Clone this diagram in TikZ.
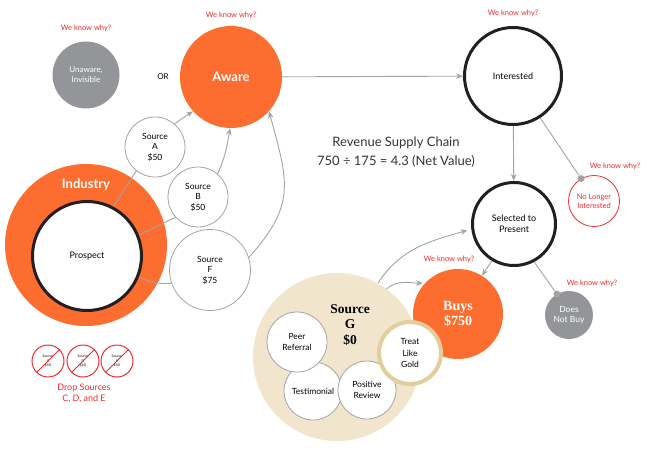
\documentclass[tikz,border=0pt]{standalone}
\usepackage{fontspec}
\setmainfont{Lato}
\newfontfamily\serifb{Liberation Serif}
\usetikzlibrary{arrows.meta}
\definecolor{orng}{HTML}{FD6D2F}
\definecolor{gry}{HTML}{939598}
\definecolor{lne}{HTML}{A3A3A3}
\definecolor{beige}{HTML}{F1E6CD}
\definecolor{gold}{HTML}{E3CD9D}
\definecolor{redc}{HTML}{EC2B2F}
\definecolor{ink}{HTML}{231F20}
\definecolor{titlec}{HTML}{333333}
\begin{document}
\begin{tikzpicture}[x=1pt,y=-1pt,
  circ/.style={circle, inner sep=0pt, align=center},
  conn/.style={draw=lne, line width=0.9pt},
  arr/.style={conn, -{Stealth[length=7pt,width=5.5pt]}},
  why/.style={inner sep=0pt, text=redc, font=\fontsize{7.5}{9}\selectfont},
  srcc/.style={circ, draw=lne, fill=white, line width=0.8pt, font=\fontsize{8.5}{10.5}\selectfont},
  blk/.style={circ, draw=ink, fill=white, line width=3pt, font=\fontsize{9}{11}\selectfont},
  drop/.style={circ, draw=redc, fill=white, line width=1pt, minimum size=32pt, font=\fontsize{3.5}{4.2}\selectfont},
  dot/.style={circle, fill=lne, inner sep=0pt, minimum size=7pt}]
\useasboundingbox (0,0) rectangle (650,460);

% top-left
\node[circ, fill=gry, minimum size=67pt, text=white, font=\fontsize{8}{10}\selectfont] (unaware) at (86,75) {Unaware,\\Invisible};
\node[why] (w1) at (86,28) {We know why?};
\node[inner sep=0pt, font=\fontsize{8}{10}\selectfont] (or) at (163,77) {OR};
\node[circ, fill=orng, minimum size=102pt, text=white, font=\fontsize{13}{15}\selectfont\bfseries] (aware) at (231,77) {Aware};
\node[why] (w2) at (231,15) {We know why?};

% right column
\node[blk, minimum size=97pt] (inter) at (513,76) {Interested};
\node[why] (w3) at (513,13) {We know why?};
\node[blk, minimum size=83pt] (sel) at (514,224) {Selected to\\Present};
\node[circ, draw=redc, fill=white, line width=0.8pt, minimum size=51pt, text=redc, font=\fontsize{7.5}{9}\selectfont] (nolong) at (594,201) {No Longer\\Interested};
\node[why] (w4) at (615,166) {We know why?};
\node[circ, fill=gry, minimum size=48pt, text=white, font=\fontsize{8.5}{10.5}\selectfont] (notbuy) at (569,315) {Does\\Not Buy};
\node[why] (w5) at (592,283) {We know why?};
\node[dot] (dot1) at (nolong.120) {};
\node[dot] (dot2) at (notbuy.120) {};

% title
\node[inner sep=0pt, align=center, text=titlec, font=\fontsize{13}{19}\selectfont] (title) at (396,152) {Revenue Supply Chain\\750 ÷ 175 = 4.3 (Net Value)};

% industry
\node[circ, fill=orng, minimum size=162pt] (ind) at (86,245) {};
\node[inner sep=0pt, text=white, font=\fontsize{13}{15}\selectfont\bfseries] (indlab) at (86,185) {Industry};
\node[blk, minimum size=109pt] (pros) at (87,256) {Prospect};

% sources
\node[srcc, minimum size=60pt] (srcA) at (155,147) {Source\\A\\\$50};
\node[srcc, minimum size=60pt] (srcB) at (198,197) {Source\\B\\\$50};
\node[srcc, minimum size=81pt] (srcF) at (210,270) {Source\\F\\\$75};

% source G cluster
\node[circ, fill=beige, minimum size=168pt] (srcG) at (337,357) {};
\node[circ, fill=orng, minimum size=90pt, text=white, font=\serifb\fontsize{14}{15}\selectfont\bfseries] (buys) at (458,314) {Buys\\\$750};
\node[why] (w6) at (449,259) {We know why?};
\node[inner sep=0pt, align=center, font=\serifb\fontsize{13.5}{15.5}\selectfont\bfseries] (glab) at (350,325) {Source\\G\\\$0};
\node[srcc, minimum size=58pt] (testi) at (313,391) {Testimonial};
\node[srcc, minimum size=58pt] (posrev) at (367,390) {Positive\\Review};
\node[srcc, minimum size=60pt] (peer) at (297,342) {Peer\\Referral};
\node[circ, draw=gold, fill=white, line width=4pt, minimum size=62pt, font=\fontsize{8.5}{11.5}\selectfont] (gold) at (410,353) {Treat\\Like\\Gold};

% drop sources
\node[drop] (dC) at (48,361) {Source\\C\\\$50};
\node[drop] (dD) at (83,361) {Source\\D\\\$50};
\node[drop] (dE) at (117,361) {Source\\E\\\$50};
\draw[redc, line width=1pt] (dC.225) -- (dC.45);
\draw[redc, line width=1pt] (dD.225) -- (dD.45);
\draw[redc, line width=1pt] (dE.225) -- (dE.45);
\node[inner sep=0pt, align=center, text=redc, font=\fontsize{9}{11}\selectfont] (droplab) at (84,393) {Drop Sources\\C, D, and E};

% connectors
\draw[conn] (pros.62) -- (srcA.232);
\draw[arr] (srcA.50) -- (aware.222);
\draw[conn] (pros.22) -- (srcB.222);
\draw[arr] (srcB.50) to[out=65,in=-100] (aware.269);
\draw[conn] (pros.-22) to[bend right=15] (srcF.199);
\draw[arr] (srcF.18) to[out=48,in=-75,looseness=1.25] (aware.318);
\draw[arr] (aware) -- (inter);
\draw[arr] (inter) -- (sel);
\draw[arr] (sel.239) -- (buys.58);
\draw[conn] (inter.-57) -- (dot1);
\draw[conn] (sel.-62) -- (dot2);
\draw[arr, shorten >=4pt] (srcG.61) to[out=57,in=196] (sel.187);
\draw[arr, shorten >=2pt] (srcG.54) to[out=40,in=180] (buys.137);
\end{tikzpicture}
\end{document}
